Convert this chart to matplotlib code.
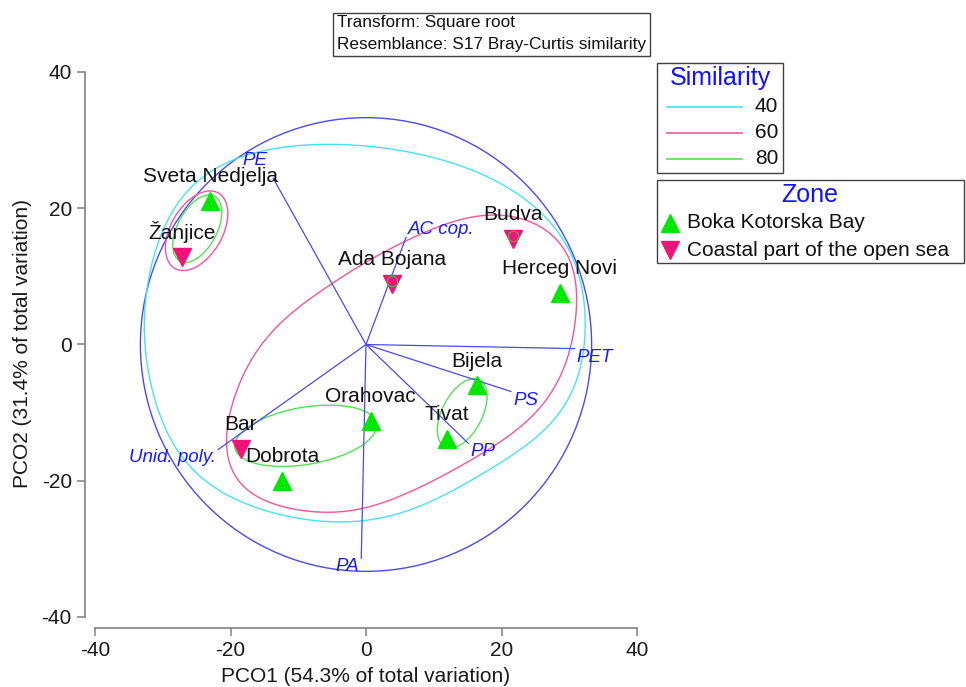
import numpy as np
import matplotlib
matplotlib.use("Agg")
import matplotlib.pyplot as plt
from matplotlib.patches import Ellipse, Circle, Rectangle
from matplotlib.lines import Line2D

plt.rcParams['font.family'] = ['Liberation Sans', 'DejaVu Sans']
plt.rcParams['axes.unicode_minus'] = False

# ---------------- data ----------------
sites = ["Sveta Nedjelja", "Žanjice", "Ada Bojana", "Budva", "Herceg Novi",
         "Bijela", "Tivat", "Orahovac", "Bar", "Dobrota"]
pco1 = [-23.0, -27.2, 3.8, 21.7, 28.6, 16.4, 11.9, 0.7, -18.5, -12.4]
pco2 = [21.1, 12.9, 8.9, 15.5, 7.6, -6.0, -13.8, -11.2, -15.3, -20.0]
zone = ["Boka", "Coastal", "Coastal", "Coastal", "Boka",
        "Boka", "Boka", "Boka", "Coastal", "Boka"]
overlap_mark = [False, False, True, True, False, False, False, False, False, False]

vec_names = ["PE", "AC cop.", "PET", "PS", "PP", "PA", "Unid. poly."]
vec_x = [-13.7, 5.9, 30.8, 21.4, 15.1, -0.7, -21.8]
vec_y = [24.4, 15.7, -0.6, -6.9, -14.5, -31.4, -15.4]
vec_circle_radius = 33.3

# similarity 40 contour (outline vertices)
sim40_x = [-32.6, -32.8, -30.8, -28.5, -24.5, -18.6, -12.3, -5.3, 8.0, 17.9, 25.2,
           30.1, 32.0, 32.3, 32.0, 30.1, 26.7, 22.3, 17.3, 10.9, 4.6, -0.9, -6.3,
           -16.1, -24.5, -29.4, -31.9]
sim40_y = [2.1, 6.5, 13.8, 20.1, 24.1, 27.5, 28.9, 29.4, 28.0, 24.5, 20.1,
           13.4, 8.4, 6.5, -0.9, -7.8, -12.2, -15.6, -18.9, -22.5, -24.8, -25.8, -26.1,
           -23.9, -19.5, -12.6, -5.3]
# similarity 60 contour, large group
sim60_x = [-20.5, -19.6, -16.7, -11.7, -4.3, 3.1, 10.5, 16.8, 22.7, 27.2, 30.1,
           31.1, 30.4, 28.2, 25.2, 20.8, 15.8, 9.4, 2.1, -5.3, -12.7, -17.9, -20.2]
sim60_y = [-14.1, -8.2, -1.9, 4.0, 9.4, 13.8, 17.2, 18.9, 18.5, 16.3, 12.3,
           6.5, 0.6, -5.7, -9.7, -13.7, -16.7, -20.3, -23.3, -24.7, -23.6, -21.1, -17.3]
# small contours as ellipses: centre x, centre y, full width, full height, angle
sim60_small = [(-25.0, 16.7, 12.8, 7.6, 59.6)]
sim80_small = [(-24.9, 17.0, 10.8, 5.8, 61.7),
               (-8.9, -13.4, 21.2, 8.4, 9.6),
               (14.2, -10.1, 11.1, 5.9, 62.4)]

xticks = [-40, -20, 0, 20, 40]
yticks = [-40, -20, 0, 20, 40]

# ---------------- styles ----------------
C40 = '#45E3F2'
C60 = '#F2559A'
C80 = '#55E055'
CVEC = '#4A4AEE'
CTXT = '#1A1AFF'
GREEN = '#00E800'
PINK = '#F0147A'
label_nudge = {"PE": (-3, 7)}  # extra offset (points) for crowded vector labels

W, H = 966, 687
fig = plt.figure(figsize=(W / 100, H / 100), dpi=100)
ax = fig.add_axes([95 / W, 1 - 617 / H, 542 / W, 545 / H])
ax.set_xlim(-40, 40)
ax.set_ylim(-40, 40)


def smooth_closed(xs, ys, harmonics=9, n=720):
    """Closed Catmull-Rom spline through the outline, then low-pass smoothed."""
    P = np.column_stack([xs, ys])
    N = len(P)
    t = np.linspace(0, 1, 30, endpoint=False)[:, None]
    out = []
    for i in range(N):
        p0, p1, p2, p3 = P[i - 1], P[i], P[(i + 1) % N], P[(i + 2) % N]
        pts = 0.5 * ((2 * p1) + (-p0 + p2) * t + (2 * p0 - 5 * p1 + 4 * p2 - p3) * t ** 2
                     + (-p0 + 3 * p1 - 3 * p2 + p3) * t ** 3)
        out.append(pts)
    out = np.vstack(out)
    z = out[:, 0] + 1j * out[:, 1]
    seg = np.abs(np.diff(np.append(z, z[0])))
    s = np.concatenate([[0], np.cumsum(seg)])
    zz = np.append(z, z[0])
    su = np.linspace(0, s[-1], n, endpoint=False)
    zr = np.interp(su, s, zz.real) + 1j * np.interp(su, s, zz.imag)
    F = np.fft.fft(zr)
    k = np.fft.fftfreq(n, 1.0 / n)
    F[np.abs(k) > harmonics] = 0
    zs = np.fft.ifft(F)
    zs = np.append(zs, zs[0])
    return zs.real, zs.imag


# vector circle
ax.add_patch(Circle((0, 0), vec_circle_radius, fill=False, ec=CVEC, lw=1.0, zorder=2))

# contours
sx, sy = smooth_closed(sim40_x, sim40_y, harmonics=8)
ax.plot(sx, sy, color=C40, lw=1.0, zorder=2)
sx, sy = smooth_closed(sim60_x, sim60_y, harmonics=9)
ax.plot(sx, sy, color=C60, lw=1.0, zorder=2)
for cx, cy, w, h, a in sim60_small:
    ax.add_patch(Ellipse((cx, cy), w, h, angle=a, fill=False, ec=C60, lw=1.0, zorder=2))
for cx, cy, w, h, a in sim80_small:
    ax.add_patch(Ellipse((cx, cy), w, h, angle=a, fill=False, ec=C80, lw=1.0, zorder=2))

# vectors
for name, vx, vy in zip(vec_names, vec_x, vec_y):
    ax.plot([0, vx], [0, vy], color=CVEC, lw=0.9, zorder=3)
    ha = 'left' if vx > 0 else 'right'
    va = 'bottom' if vy > 0 else 'top'
    dx, dy = label_nudge.get(name, (0, 0))
    ax.annotate(name, (vx, vy), xytext=((1.5 if vx > 0 else -1.5) + dx, dy),
                textcoords='offset points', ha=ha, va=va, fontsize=13.5, style='italic',
                color=CTXT, zorder=4)

# points
for name, x, y, z, ov in zip(sites, pco1, pco2, zone, overlap_mark):
    if z == "Boka":
        ax.plot([x], [y], marker='^', ms=13, color=GREEN, mec=GREEN, ls='none', zorder=5)
    else:
        ax.plot([x], [y], marker='v', ms=13, color=PINK, mec=PINK, ls='none', zorder=5)
        if ov:
            ax.plot([x], [y + 0.4], marker='o', ms=7.5, color=PINK, mec='#40C040', mew=0.8,
                    ls='none', zorder=6)
    ax.annotate(name, (x, y), xytext=(0, 17.5), textcoords='offset points', ha='center',
                va='center', fontsize=15, color='#111111', zorder=7)

# axes styling
for s in ['top', 'right']:
    ax.spines[s].set_visible(False)
ax.spines['left'].set_position(('outward', 7.2))
ax.spines['bottom'].set_position(('outward', 7.9))
for s in ['left', 'bottom']:
    ax.spines[s].set_color('#808080')
    ax.spines[s].set_linewidth(1.2)
ax.set_xticks(xticks)
ax.set_yticks(yticks)
ax.tick_params(axis='both', direction='out', length=6, width=1.1, color='#808080',
               labelsize=15, labelcolor='#1a1a1a', pad=3.5)
ax.patch.set_alpha(0)

fig.text(366 / W, 1 - 676 / H, "PCO1 (54.3% of total variation)", ha='center', va='center',
         fontsize=15, color='#1a1a1a')
fig.text(23 / W, 1 - 344 / H, "PCO2 (31.4% of total variation)", ha='center', va='center',
         rotation=90, fontsize=15, color='#1a1a1a')

# overlay in pixel coordinates for boxes / legends
ov_ax = fig.add_axes([0, 0, 1, 1])
ov_ax.set_xlim(0, W)
ov_ax.set_ylim(H, 0)
ov_ax.axis('off')
ov_ax.patch.set_alpha(0)

# annotation box
ov_ax.add_patch(Rectangle((333, 13), 317, 43, fill=False, ec='#404040', lw=1.0))
ov_ax.text(337, 23, "Transform: Square root", ha='left', va='center', fontsize=12.4, color='#111111')
ov_ax.text(337, 44, "Resemblance: S17 Bray-Curtis similarity", ha='left', va='center',
           fontsize=12.4, color='#111111')

# similarity legend
sim_levels = ["40", "60", "80"]
sim_colors = [C40, C60, C80]
ov_ax.add_patch(Rectangle((657, 63), 126, 110, fill=False, ec='#404040', lw=1.0))
ov_ax.text(720, 78, "Similarity", ha='center', va='center', fontsize=18, color='#1010FF')
for i, (lev, col) in enumerate(zip(sim_levels, sim_colors)):
    yy = 107 + 26 * i
    ov_ax.add_line(Line2D([667, 742], [yy, yy], color=col, lw=1.2))
    ov_ax.text(778, yy, lev, ha='right', va='center', fontsize=15, color='#111111')

# zone legend
zone_labels = ["Boka Kotorska Bay", "Coastal part of the open sea"]
ov_ax.add_patch(Rectangle((657, 180), 307, 83, fill=False, ec='#404040', lw=1.0))
ov_ax.text(810, 195, "Zone", ha='center', va='center', fontsize=18, color='#1010FF')
ov_ax.plot([670], [223], marker='^', ms=13, color=GREEN, ls='none')
ov_ax.plot([670], [250], marker='v', ms=13, color=PINK, ls='none')
ov_ax.text(687, 223, zone_labels[0], ha='left', va='center', fontsize=15, color='#111111')
ov_ax.text(687, 250, zone_labels[1], ha='left', va='center', fontsize=15, color='#111111')

fig.savefig("out.png", dpi=100)
